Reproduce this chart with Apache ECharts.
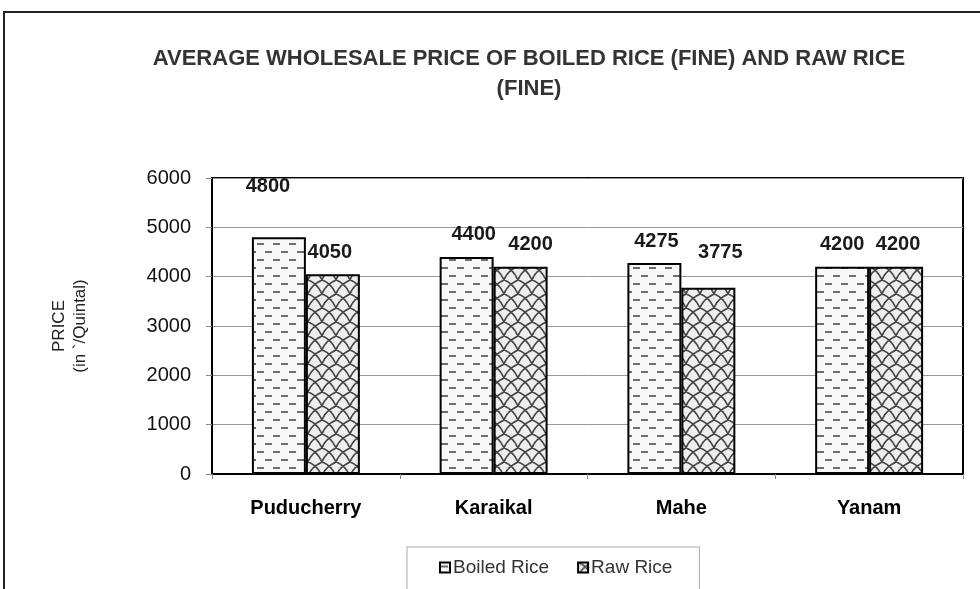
<!DOCTYPE html>
<html>
<head>
<meta charset="utf-8">
<script src="https://cdn.jsdelivr.net/npm/echarts@6/dist/echarts.min.js"></script>
<style>
  html, body { margin: 0; padding: 0; background: #fff; }
  #chart { width: 980px; height: 589px; }
</style>
</head>
<body>
<div id="chart"></div>
<script>
var categories = ['Puducherry', 'Karaikal', 'Mahe', 'Yanam'];
var boiledRice = [4800, 4400, 4275, 4200];
var rawRice = [4050, 4200, 3775, 4200];
var yTicks = [0, 1000, 2000, 3000, 4000, 5000, 6000];

// label nudges, as Excel placed them by hand
var boiledOffsets = [[-11, -29], [7, 0], [2, 0], [0, 0]];
var rawOffsets = [[-3, 0], [10, 0], [12, -13], [2, 0]];

var FONT = '"Liberation Sans", Arial, sans-serif';

// fill patterns
function dashPattern() {
    var c = document.createElement('canvas');
    c.width = 16; c.height = 16;
    var ctx = c.getContext('2d');
    ctx.fillStyle = '#f8f8f8';
    ctx.fillRect(0, 0, 16, 16);
    ctx.fillStyle = '#6e6e6e';
    ctx.fillRect(1, 3, 7, 2);
    ctx.fillRect(9, 11, 7, 2);
    return c;
}
function scalePattern() {
    var c = document.createElement('canvas');
    c.width = 14; c.height = 14;
    var ctx = c.getContext('2d');
    ctx.fillStyle = '#eeeeee';
    ctx.fillRect(0, 0, 14, 14);
    ctx.strokeStyle = '#444';
    ctx.lineWidth = 1.6;
    ctx.beginPath();
    ctx.moveTo(0, 0); ctx.quadraticCurveTo(9, 3, 14, 14);
    ctx.moveTo(14, 0); ctx.quadraticCurveTo(3, 5, 0, 14);
    ctx.stroke();
    return c;
}

function makeData(values, offsets) {
    return values.map(function (v, i) {
        return { value: v, label: { offset: offsets[i] } };
    });
}

var chart = echarts.init(document.getElementById('chart'));
chart.setOption({
    animation: false,
    textStyle: { fontFamily: FONT },
    title: {
        text: 'AVERAGE WHOLESALE PRICE OF BOILED RICE (FINE) AND RAW RICE\n(FINE)',
        left: 524,
        top: 39,
        textAlign: 'center',
        textStyle: { fontFamily: FONT, fontSize: 22, fontWeight: 'bold', color: '#333', lineHeight: 30 }
    },
    legend: {
        left: 407,
        top: 547,
        padding: [11, 27, 40, 32],
        itemGap: 28,
        itemWidth: 10,
        itemHeight: 10,
        icon: 'rect',
        borderColor: '#aaa',
        borderWidth: 1,
        textStyle: { fontFamily: FONT, fontSize: 19, color: '#333', padding: [0, 0, 0, -2] },
        itemStyle: { borderColor: '#000', borderWidth: 2 },
        data: ['Boiled Rice', 'Raw Rice']
    },
    grid: {
        left: 212, right: 17, top: 178, bottom: 115,
        show: true, borderColor: '#000', borderWidth: 2
    },
    xAxis: {
        type: 'category',
        data: categories,
        axisLine: { lineStyle: { color: '#000', width: 2 } },
        axisTick: { show: true, length: 5, lineStyle: { color: '#888' } },
        axisLabel: { fontFamily: FONT, fontSize: 20, fontWeight: 'bold', color: '#000', margin: 24 }
    },
    yAxis: {
        type: 'value',
        min: yTicks[0],
        max: yTicks[yTicks.length - 1],
        interval: 1000,
        name: 'PRICE\n(in `/Quintal)',
        nameLocation: 'middle',
        nameRotate: 90,
        nameGap: 121,
        nameTextStyle: { fontFamily: FONT, fontSize: 17, color: '#222', lineHeight: 21 },
        axisLine: { show: true, lineStyle: { color: '#000', width: 2 } },
        axisTick: { show: true, length: 6, lineStyle: { color: '#888' } },
        axisLabel: { fontFamily: FONT, fontSize: 20, color: '#111', margin: 21, formatter: function (v) { return String(v); } },
        splitLine: { lineStyle: { color: '#999', width: 1 } }
    },
    series: [
        {
            name: 'Boiled Rice',
            type: 'bar',
            data: makeData(boiledRice, boiledOffsets),
            barGap: '0%',
            barCategoryGap: '42.5%',
            itemStyle: { color: { image: dashPattern(), repeat: 'repeat' }, borderColor: '#000', borderWidth: 2 },
            label: { show: true, position: 'top', distance: 12, fontFamily: FONT, fontSize: 20, fontWeight: 'bold', color: '#1a1a1a' }
        },
        {
            name: 'Raw Rice',
            type: 'bar',
            data: makeData(rawRice, rawOffsets),
            itemStyle: { color: { image: scalePattern(), repeat: 'repeat' }, borderColor: '#000', borderWidth: 2 },
            label: { show: true, position: 'top', distance: 12, fontFamily: FONT, fontSize: 20, fontWeight: 'bold', color: '#1a1a1a' }
        }
    ],
    graphic: [
        {
            type: 'rect',
            shape: { x: 4, y: 12, width: 1000, height: 600 },
            style: { fill: null, stroke: '#222', lineWidth: 2 },
            z: -1
        }
    ]
});
window.addEventListener('resize', function () {
    chart.resize();
});
</script>
</body>
</html>
